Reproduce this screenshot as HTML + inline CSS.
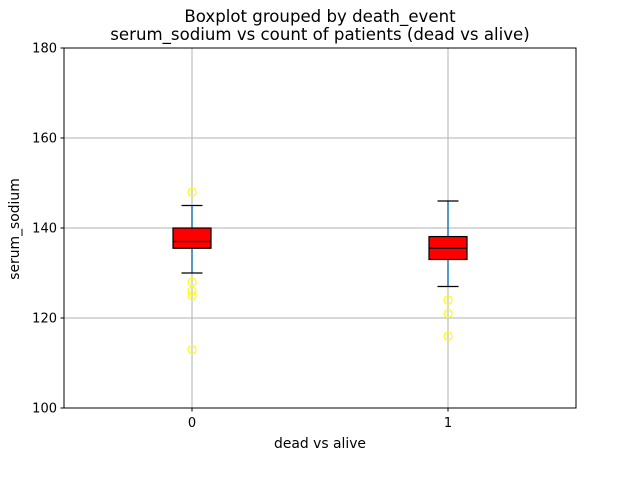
<!DOCTYPE html>
<html><head><meta charset="utf-8"><style>
body{margin:0;background:#fff;}
svg text{font-family:"DejaVu Sans","Liberation Sans",sans-serif;}
</style></head><body>
<svg width="640" height="480" xmlns="http://www.w3.org/2000/svg">
<g id="plot"></g>
</svg>
<script>
const categories = ["0", "1"];
const q1 = [135.5, 133];
const median = [137, 135.5];
const q3 = [140, 138.1];
const whiskerLow = [130, 127];
const whiskerHigh = [145, 146];
const outliers = [[148, 128, 126, 125, 113], [124, 121, 116]];
const yTicks = [100, 120, 140, 160, 180];

const L=64,R=576,T=48,B=408,ymin=100,ymax=180;
const y=v=>B-(v-ymin)/(ymax-ymin)*(B-T);
const x=i=>L+(R-L)*(i+0.5)/categories.length;
const NS="http://www.w3.org/2000/svg";
const g=document.getElementById('plot');
function mk(tag,attrs,parent){const e=document.createElementNS(NS,tag);for(const k in attrs)e.setAttribute(k,attrs[k]);(parent||g).appendChild(e);return e;}

yTicks.forEach(t=>{
  const l=mk('line',{x1:L,x2:R,y1:y(t),y2:y(t),stroke:'#b0b0b0','stroke-width':1});
  
  
  mk('line',{x1:L-3.5,x2:L,y1:y(t),y2:y(t),stroke:'#000'});
  const tx=mk('text',{x:L-7,y:y(t)+4.5,'text-anchor':'end','font-size':13});
  tx.textContent=t;
  
  
});
categories.forEach((c,i)=>{
  const l=mk('line',{x1:x(i),x2:x(i),y1:T,y2:B,stroke:'#b0b0b0','stroke-width':1});
  
  
  mk('line',{x1:x(i),x2:x(i),y1:B,y2:B+3.5,stroke:'#000'});
  const tx=mk('text',{x:x(i),y:B+19,'text-anchor':'middle','font-size':13});
  tx.textContent=c;
  
  
});
categories.forEach((c,i)=>{
  const cx=x(i),hw=19,cw=10.5;
  const bg=mk('g',{});
  
  
  mk('line',{x1:cx,x2:cx,y1:y(whiskerLow[i]),y2:y(q1[i]),stroke:'#1f77b4','stroke-width':1.5},bg);
  mk('line',{x1:cx,x2:cx,y1:y(q3[i]),y2:y(whiskerHigh[i]),stroke:'#1f77b4','stroke-width':1.5},bg);
  mk('line',{x1:cx-cw,x2:cx+cw,y1:y(whiskerLow[i]),y2:y(whiskerLow[i]),stroke:'#000','stroke-width':1.2},bg);
  mk('line',{x1:cx-cw,x2:cx+cw,y1:y(whiskerHigh[i]),y2:y(whiskerHigh[i]),stroke:'#000','stroke-width':1.2},bg);
  mk('rect',{x:cx-hw,y:y(q3[i]),width:2*hw,height:y(q1[i])-y(q3[i]),fill:'#ff0000',stroke:'#000','stroke-width':1.2},bg);
  mk('line',{x1:cx-hw,x2:cx+hw,y1:y(median[i]),y2:y(median[i]),stroke:'#000','stroke-width':1.2},bg);
  outliers[i].forEach(v=>{
    const o=mk('circle',{cx:cx,cy:y(v),r:4,fill:'none',stroke:'#ffff00','stroke-width':1.2},bg);
    
    
  });
});
const fr=mk('rect',{x:L,y:T,width:R-L,height:B-T,fill:'none',stroke:'#000','stroke-width':1});


function txt(s,a,name){const t=mk('text',a);t.textContent=s;}
txt('Boxplot grouped by death_event',{x:320,y:22,'text-anchor':'middle','font-size':16.6},'suptitle');
txt('serum_sodium vs count of patients (dead vs alive)',{x:320,y:40,'text-anchor':'middle','font-size':16.6},'chart-title');
txt('dead vs alive',{x:320,y:448,'text-anchor':'middle','font-size':13.9},'x-axis-title');
txt('serum_sodium',{x:19,y:229,'text-anchor':'middle','font-size':13.9,transform:'rotate(-90 19 229)'},'y-axis-title');
</script>
</body></html>
